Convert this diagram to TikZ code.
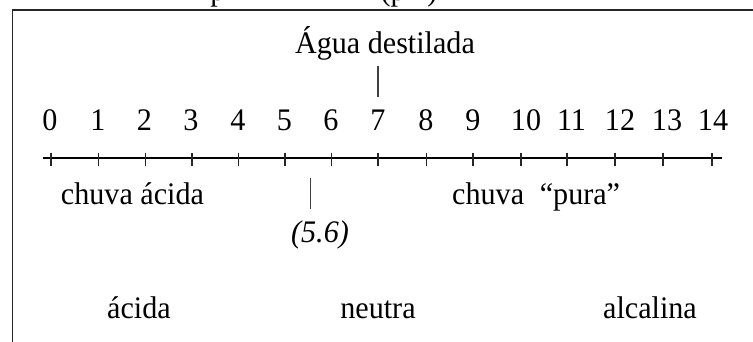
\documentclass[tikz,border=0pt]{standalone}
\usepackage{fontspec}
\setmainfont{Liberation Serif}[FakeStretch=0.96]
\begin{document}
\begin{tikzpicture}[x=1bp,y=-1bp,
  lbl/.style={font=\fontsize{31.5}{36}\selectfont, inner sep=0pt, anchor=base},
  axisline/.style={line width=1.7bp, black},
  tickline/.style={line width=1.1bp, black!85},
  markline/.style={line width=1.1bp, black!75},
  frameline/.style={line width=1.5bp, black!85}]
\useasboundingbox (0,0) rectangle (753,341);
% clipped title (only descenders visible)
\node[lbl] (title1) at (218,0) {p};
\node[lbl] (title2) at (409,0) {(pH)};
% frame
\coordinate (fTR) at (755,10);
\coordinate (fTL) at (12.7,10);
\coordinate (fBL) at (12.7,343);
\draw[frameline] (fTR) -- (fTL) -- (fBL);
% axis
\coordinate (axL) at (43,158.3);
\coordinate (axR) at (722,158.3);
\draw[axisline] (axL) -- (axR);
\foreach \i/\tx/\nx in {0/51/50,1/98.5/98,2/145.5/144.5,3/192/191,4/238.5/238,5/285/284.5,6/331.7/331,7/378/378,8/426.5/426,9/473/473,10/521/526,11/567/571.5,12/615/620,13/663/667,14/712/713}{
  \coordinate (tt\i) at (\tx,152.5);
  \coordinate (tb\i) at (\tx,166);
  \draw[tickline] (tt\i) -- (tb\i);
  \node[lbl] (n\i) at (\nx,130) {\i};
}
% labels
\node[lbl] (agua) at (385,53) {Água destilada};
\coordinate (m7t) at (378,66);
\coordinate (m7b) at (378,97);
\draw[markline] (m7t) -- (m7b);
\node[lbl] (acidrain) at (132.5,204) {chuva ácida};
\node[lbl, anchor=base west] (purerain) at (452,204) {chuva\hspace{0.5em}“pura”};
\coordinate (m56t) at (310.7,178);
\coordinate (m56b) at (310.7,209);
\draw[markline] (m56t) -- (m56b);
\node[lbl, font=\fontsize{31.5}{36}\selectfont\itshape] (v56) at (320,242) {(5.6)};
\node[lbl] (acida) at (139,318) {ácida};
\node[lbl] (neutra) at (378,318) {neutra};
\node[lbl] (alcalina) at (650,318) {alcalina};
\end{tikzpicture}
\end{document}
